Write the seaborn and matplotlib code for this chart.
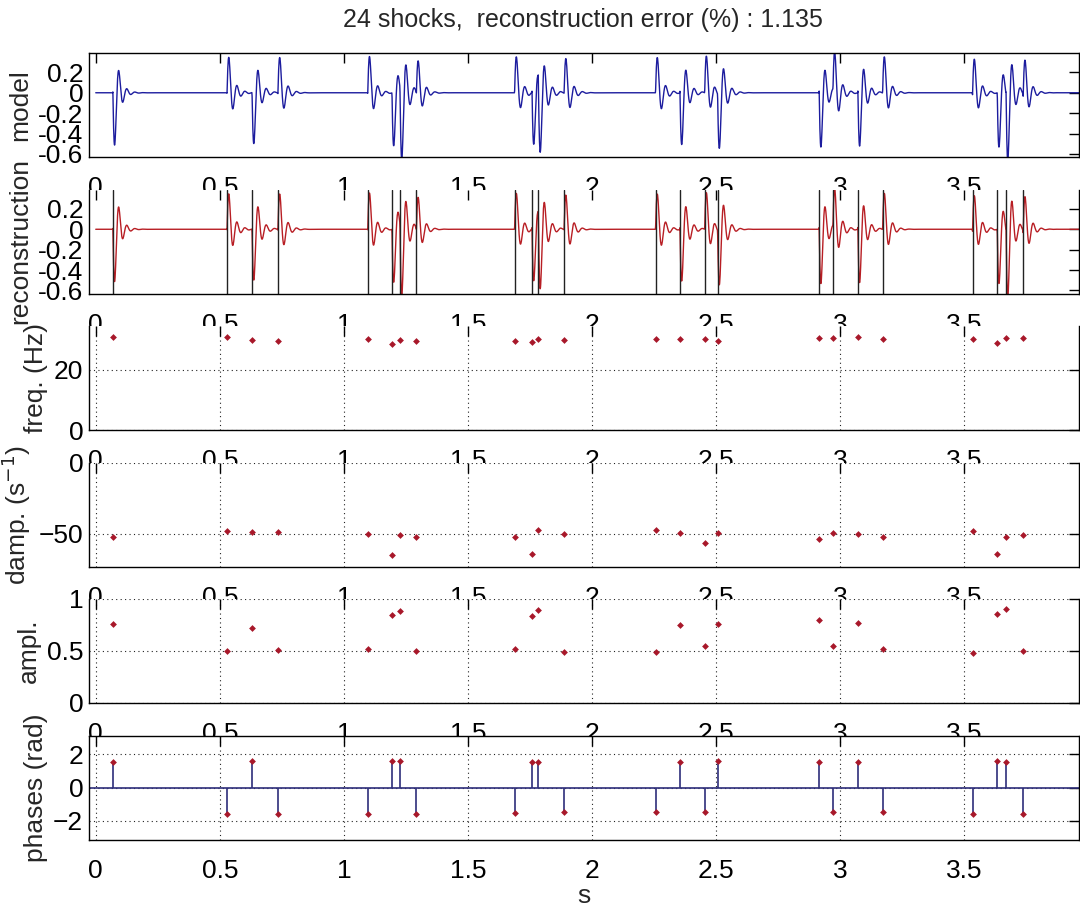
import numpy as np
import pandas as pd
import seaborn as sns
import matplotlib.pyplot as plt
from matplotlib import font_manager

# shock parameters
shock_times = [0.069, 0.529, 0.630, 0.734, 1.096, 1.194, 1.226, 1.292,
               1.688, 1.758, 1.783, 1.8875, 2.256, 2.354, 2.454, 2.506,
               2.915, 2.971, 3.071, 3.171, 3.533, 3.633, 3.668, 3.737]
freqs = [30.7, 30.8, 30.0, 29.6, 30.3, 28.6, 30.0, 29.6,
         29.6, 29.3, 30.1, 30.0, 30.1, 30.1, 30.1, 29.6,
         30.4, 30.4, 30.8, 30.1, 30.1, 28.9, 30.4, 30.4]
damps = [-52.3, -48.4, -49.0, -49.0, -50.0, -64.8, -50.6, -52.2,
         -52.3, -64.0, -47.7, -50.5, -47.7, -49.8, -56.3, -49.5,
         -53.5, -49.5, -50.5, -52.1, -48.1, -64.0, -52.1, -51.2]
ampls = [0.76, 0.50, 0.72, 0.51, 0.52, 0.85, 0.88, 0.50,
         0.52, 0.84, 0.89, 0.49, 0.49, 0.75, 0.545, 0.76,
         0.80, 0.55, 0.77, 0.52, 0.48, 0.86, 0.90, 0.50]
phases = [1.56, -1.58, 1.62, -1.58, -1.58, 1.62, 1.62, -1.58,
          -1.52, 1.56, 1.56, -1.51, -1.51, 1.55, -1.51, 1.63,
          1.55, -1.51, 1.55, -1.51, -1.61, 1.63, 1.55, -1.61]
n_shocks = 24
rec_error = 1.135

shocks = pd.DataFrame({'t': shock_times, 'freq': freqs, 'damp': damps,
                       'ampl': ampls, 'phase': phases})

# signal = sum of damped cosines defined by the shock parameters
t = np.arange(0, 4, 0.001)
signal = np.zeros_like(t)
for _, s in shocks.iterrows():
    tau = t - s['t']
    on = tau >= 0
    signal[on] += s['ampl'] * np.exp(s['damp'] * tau[on]) * np.cos(2 * np.pi * s['freq'] * tau[on] + s['phase'])
sig = pd.DataFrame({'t': t, 'y': signal})

sns.set_style('white')
names = {f.name for f in font_manager.fontManager.ttflist}
fam = 'Liberation Sans Narrow' if 'Liberation Sans Narrow' in names else 'Liberation Sans'
plt.rcParams['font.family'] = [fam, 'DejaVu Sans']
plt.rcParams['axes.edgecolor'] = 'black'
plt.rcParams['axes.linewidth'] = 1.0

W, H = 1080, 909
fig = plt.figure(figsize=(W / 100, H / 100), dpi=100)
left, right = 88.8 / W, 1079 / W
ph = 104
tops = [53 + 136.5 * k for k in range(6)]
axes = [fig.add_axes([left, 1 - (tp + ph) / H, right - left, ph / H]) for tp in tops]

blue = '#1c1c9e'
red = '#b81e24'
dot_red = '#a8182a'
navy = '#2e2e7a'
fs = 19
xlim = (-0.028, 3.962)
xticks = [0, 0.5, 1, 1.5, 2, 2.5, 3, 3.5]
grid_kw = dict(color='#222222', linestyle=(0, (1, 3)), linewidth=0.8)

# model
ax = axes[0]
sns.lineplot(data=sig, x='t', y='y', ax=ax, color=blue, linewidth=1.0, estimator=None)
ax.set_ylim(-0.63, 0.39)
ax.set_yticks([-0.6, -0.4, -0.2, 0, 0.2])
ax.set_yticklabels(['-0.6', '-0.4', '-0.2', '0', '0.2'])
ax.set_ylabel('model', fontsize=fs)

# reconstruction
ax = axes[1]
sns.lineplot(data=sig, x='t', y='y', ax=ax, color=red, linewidth=1.0, estimator=None)
for ts in shock_times:
    ax.axvline(ts, color='#222222', linewidth=1.0)
ax.set_ylim(-0.63, 0.39)
ax.set_yticks([-0.6, -0.4, -0.2, 0, 0.2])
ax.set_yticklabels(['-0.6', '-0.4', '-0.2', '0', '0.2'])
ax.set_ylabel('reconstruction', fontsize=fs)

# freq
ax = axes[2]
sns.scatterplot(data=shocks, x='t', y='freq', ax=ax, color=dot_red, marker='D', s=12, linewidth=0)
ax.set_ylim(0, 34.5)
ax.set_yticks([0, 20])
ax.set_ylabel('freq. (Hz)', fontsize=fs)

# damping
ax = axes[3]
sns.scatterplot(data=shocks, x='t', y='damp', ax=ax, color=dot_red, marker='D', s=12, linewidth=0)
ax.set_ylim(-73, 0)
ax.set_yticks([-50, 0])
ax.set_ylabel('damp. (s$^{-1}$)', fontsize=fs)

# amplitude
ax = axes[4]
sns.scatterplot(data=shocks, x='t', y='ampl', ax=ax, color=dot_red, marker='D', s=12, linewidth=0)
ax.set_ylim(0, 1)
ax.set_yticks([0, 0.5, 1])
ax.set_yticklabels(['0', '0.5', '1'])
ax.set_ylabel('ampl.', fontsize=fs)

# phases (stem)
ax = axes[5]
ax.axhline(0, color=navy, linewidth=1.2)
ax.vlines(shocks['t'], 0, shocks['phase'], color=navy, linewidth=1.2)
sns.scatterplot(data=shocks, x='t', y='phase', ax=ax, color=dot_red, marker='D', s=12, linewidth=0, zorder=3)
ax.set_ylim(-np.pi, np.pi)
ax.set_yticks([-2, 0, 2])
ax.set_ylabel('phases (rad)', fontsize=fs)

for i, ax in enumerate(axes):
    ax.set_xlim(*xlim)
    ax.set_xticks(xticks)
    ax.set_xticklabels(['0', '0.5', '1', '1.5', '2', '2.5', '3', '3.5'])
    ax.set_xlabel('')
    ax.tick_params(axis='both', direction='in', length=7, width=1.0,
                   top=True, right=True, labelsize=fs, colors='black')
    ax.tick_params(axis='x', pad=14)
    ax.tick_params(axis='y', pad=4)
    if i >= 2:
        ax.grid(True, **grid_kw)
        ax.set_axisbelow(True)
    if 1 <= i <= 4:
        ax.spines['top'].set_visible(False)
    for sp in ax.spines.values():
        sp.set_color('black')

axes[5].set_xlabel('s', fontsize=fs)
axes[5].xaxis.set_label_coords(0.5, -0.43)

fig.text(583 / W, 1 - 20 / H, f'{n_shocks} shocks,  reconstruction error (%) : {rec_error}',
         ha='center', va='center', fontsize=18)

fig.savefig('out.png', dpi=100)
